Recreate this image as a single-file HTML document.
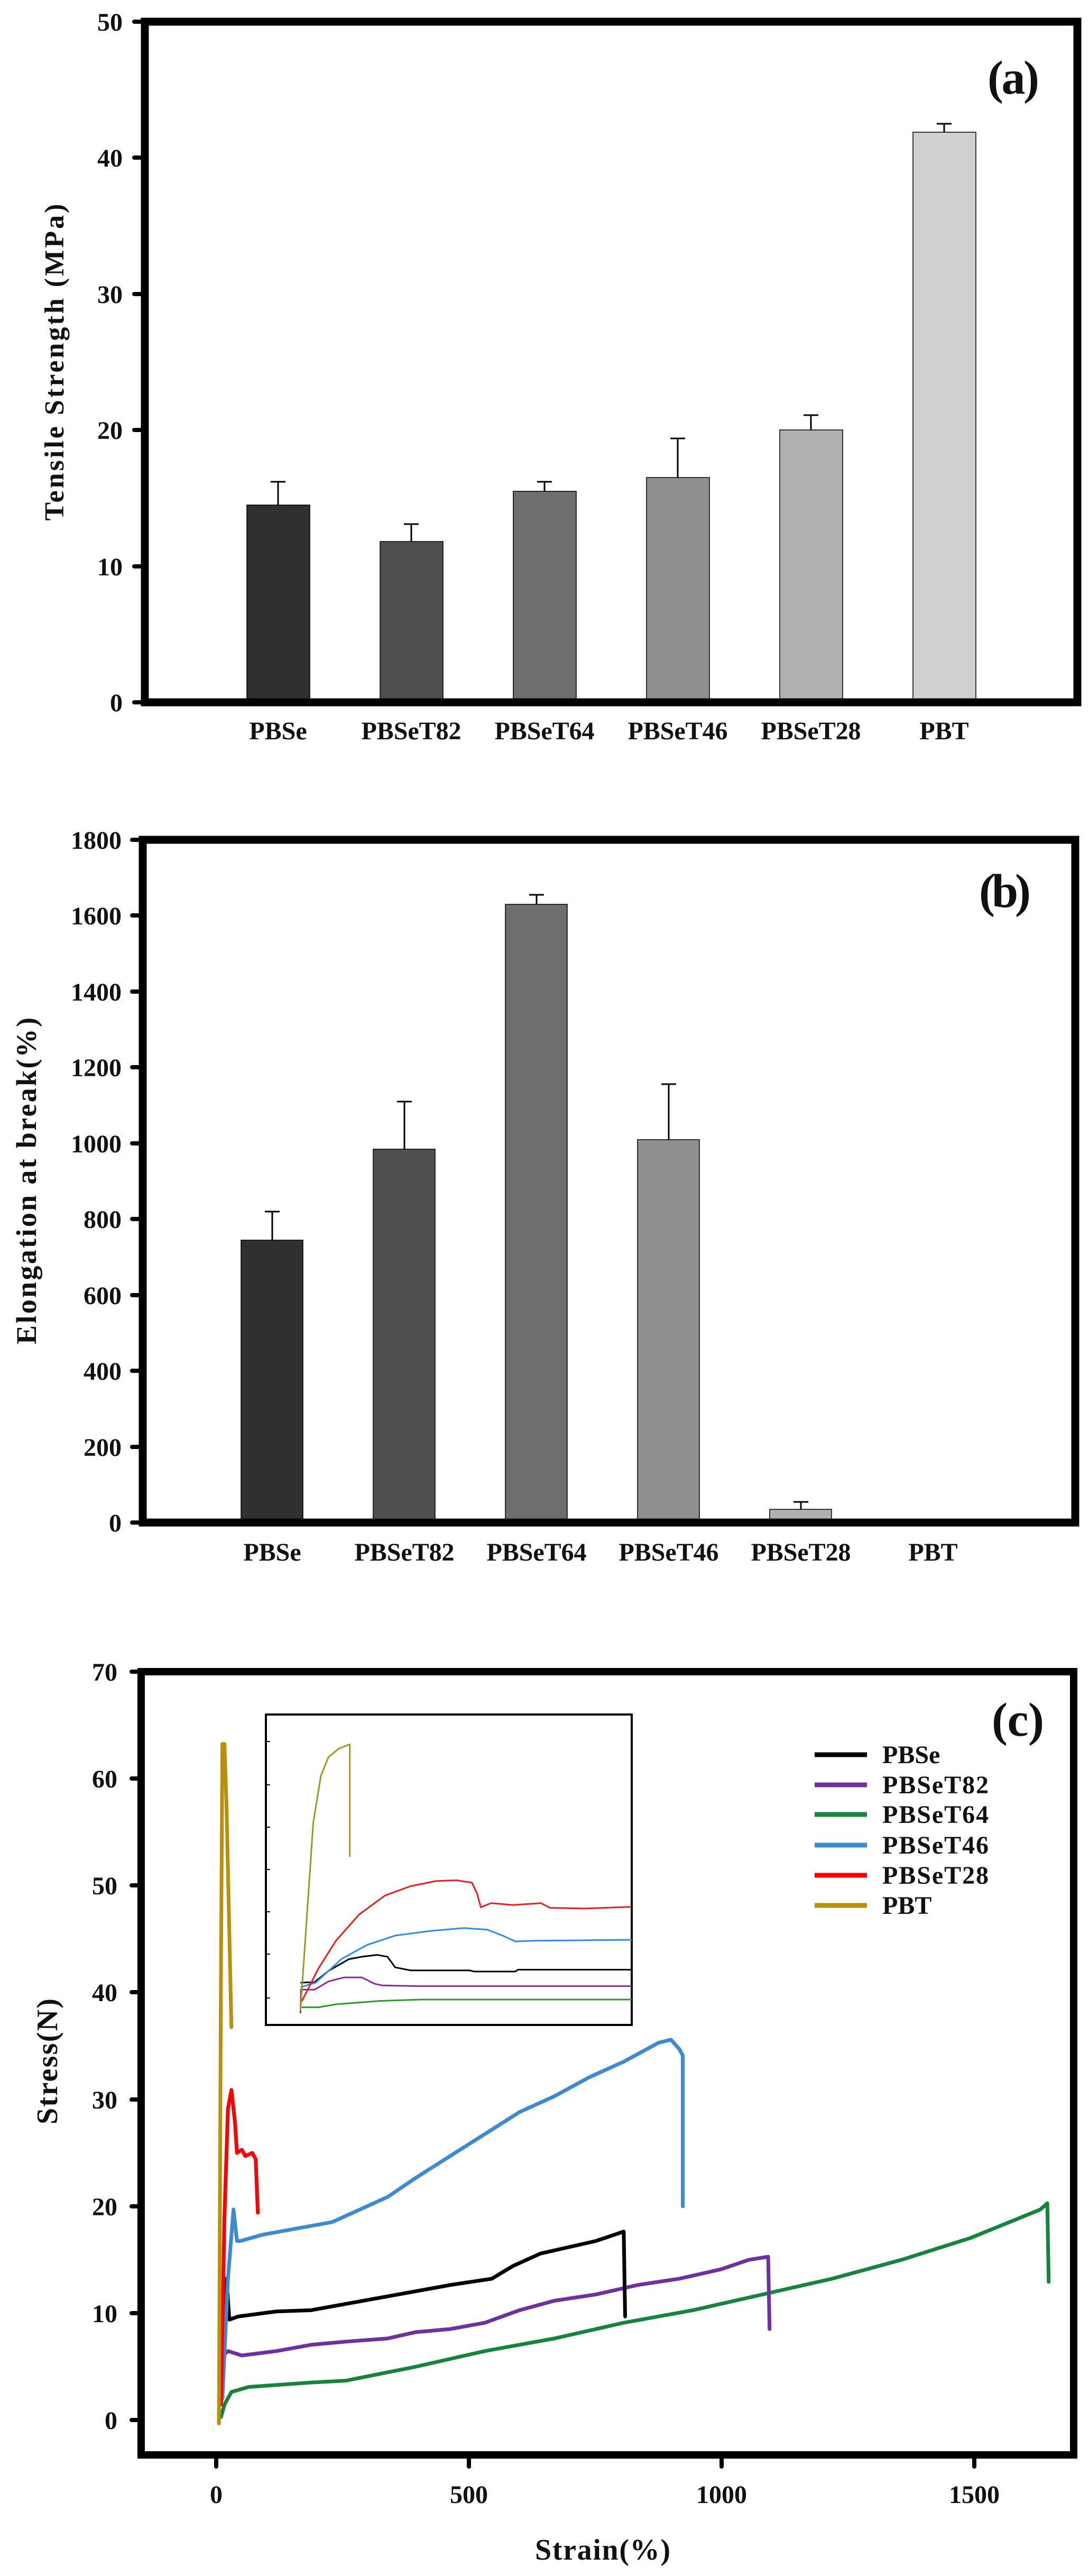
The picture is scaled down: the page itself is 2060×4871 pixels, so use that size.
<!DOCTYPE html>
<html><head><meta charset="utf-8"><style>
html,body{margin:0;padding:0;background:#fff}
svg{display:block}
text{font-family:"Liberation Serif",serif;font-weight:bold;fill:#111}
</style></head><body>
<svg width="2060" height="4871" viewBox="0 0 2060 4871" xmlns="http://www.w3.org/2000/svg">
<!-- Panel A -->
<g>
<g stroke="#000" stroke-width="1.5">
<rect x="467" y="955" width="119" height="373" fill="#303030"/>
<rect x="719" y="1024" width="119" height="304" fill="#505050"/>
<rect x="971" y="929" width="119" height="399" fill="#6e6e6e"/>
<rect x="1223" y="903" width="119" height="425" fill="#8f8f8f"/>
<rect x="1475" y="813" width="119" height="515" fill="#b0b0b0"/>
<rect x="1727" y="250" width="119" height="1078" fill="#d0d0d0"/>
</g>
<g stroke="#000" stroke-width="3" fill="none">
<path d="M526 955V911M512 911H540"/>
<path d="M778 1024V991M764 991H792"/>
<path d="M1030 929V911M1016 911H1044"/>
<path d="M1282 903V829M1268 829H1296"/>
<path d="M1534 813V785M1520 785H1548"/>
<path d="M1786 250V234M1772 234H1800"/>
</g>
<path d="M274 41H2038V1328H274Z" fill="none" stroke="#000" stroke-width="15"/>
<g stroke="#000" stroke-width="8" stroke-linecap="round">
<path d="M254 41H274M254 298H274M254 556H274M254 813H274M254 1071H274M254 1328H274"/>
</g>
<g font-size="48" text-anchor="end">
<text x="232" y="58">50</text><text x="232" y="315">40</text><text x="232" y="573">30</text>
<text x="232" y="830">20</text><text x="232" y="1088">10</text><text x="232" y="1345">0</text>
</g>
<g font-size="48" text-anchor="middle">
<text x="526" y="1398">PBSe</text><text x="778" y="1398" textLength="189">PBSeT82</text>
<text x="1030" y="1398" textLength="189">PBSeT64</text><text x="1282" y="1398" textLength="189">PBSeT46</text>
<text x="1534" y="1398" textLength="189">PBSeT28</text><text x="1786" y="1398">PBT</text>
</g>
<text x="1868" y="177" font-size="90" textLength="98">(a)</text>
<text transform="translate(120,685) rotate(-90)" font-size="52" text-anchor="middle" textLength="599">Tensile Strength (MPa)</text>
</g>

<!-- Panel B -->
<g>
<g stroke="#000" stroke-width="1.5">
<rect x="456" y="2345" width="117" height="534" fill="#303030"/>
<rect x="706" y="2173" width="117" height="706" fill="#505050"/>
<rect x="956" y="1710" width="117" height="1169" fill="#6e6e6e"/>
<rect x="1206" y="2155" width="117" height="724" fill="#8f8f8f"/>
<rect x="1456" y="2854" width="117" height="25" fill="#b0b0b0"/>
</g>
<g stroke="#000" stroke-width="3" fill="none">
<path d="M515 2345V2291M501 2291H529"/>
<path d="M765 2173V2083M751 2083H779"/>
<path d="M1015 1710V1692M1001 1692H1029"/>
<path d="M1265 2155V2050M1251 2050H1279"/>
<path d="M1515 2854V2840M1501 2840H1529"/>
</g>
<path d="M270 1588H2034V2879H270Z" fill="none" stroke="#000" stroke-width="15"/>
<g stroke="#000" stroke-width="8" stroke-linecap="round">
<path d="M250 1588H270M250 1731H270M250 1875H270M250 2018H270M250 2162H270M250 2305H270M250 2449H270M250 2592H270M250 2736H270M250 2879H270"/>
</g>
<g font-size="48" text-anchor="end">
<text x="230" y="1605">1800</text><text x="230" y="1748">1600</text><text x="230" y="1892">1400</text>
<text x="230" y="2035">1200</text><text x="230" y="2179">1000</text><text x="230" y="2322">800</text>
<text x="230" y="2466">600</text><text x="230" y="2609">400</text><text x="230" y="2753">200</text><text x="230" y="2896">0</text>
</g>
<g font-size="48" text-anchor="middle">
<text x="515" y="2951">PBSe</text><text x="765" y="2951" textLength="189">PBSeT82</text>
<text x="1015" y="2951" textLength="189">PBSeT64</text><text x="1265" y="2951" textLength="189">PBSeT46</text>
<text x="1515" y="2951" textLength="189">PBSeT28</text><text x="1765" y="2951">PBT</text>
</g>
<text x="1852" y="1715" font-size="90" textLength="98">(b)</text>
<text transform="translate(68,2233) rotate(-90)" font-size="54" text-anchor="middle" textLength="618">Elongation at break(%)</text>
</g>

<!-- Panel C -->
<g>
<g transform="translate(267,3161) scale(1.3135,1.1895) translate(-205,-135)" fill="none" stroke-linejoin="round" stroke-linecap="round">
<path vector-effect="non-scaling-stroke" stroke-width="7" stroke="#16843c" d="M320 1320L325 1300L335 1280L360 1272L450 1265L500 1262L600 1240L700 1215L800 1195L900 1170L1000 1150L1100 1125L1200 1100L1300 1070L1400 1035L1500 990L1510 980L1512 1105"/>
<path vector-effect="non-scaling-stroke" stroke-width="7" stroke="#7030a0" d="M320 1295L325 1220L330 1215L350 1222L400 1215L450 1205L500 1200L560 1195L600 1185L650 1180L700 1170L750 1150L800 1135L860 1125L920 1110L980 1100L1040 1085L1080 1070L1108 1065L1110 1180"/>
<path vector-effect="non-scaling-stroke" stroke-width="7" stroke="#000" d="M322 1290L328 1100L332 1165L345 1160L400 1152L450 1150L500 1140L550 1130L600 1120L650 1110L710 1100L740 1080L780 1060L820 1050L860 1040L900 1025L902 1160"/>
<path vector-effect="non-scaling-stroke" stroke-width="7" stroke="#3e8ad0" d="M322 1290L330 1100L338 990L343 1040L348 1040L380 1030L430 1020L480 1010L520 990L560 970L600 940L650 905L700 870L750 835L800 810L850 780L900 755L950 725L968 720L980 735L985 745L985 985"/>
<path vector-effect="non-scaling-stroke" stroke-width="7" stroke="#ff0000" d="M320 1300L325 1000L330 830L335 800L340 850L343 900L350 895L355 905L365 900L370 910L373 995"/>
<path vector-effect="non-scaling-stroke" stroke-width="7" stroke="#b8900a" d="M317 1330L320 600L322 250L325 250L328 350L332 550L335 700"/>
</g>
<!-- inset -->
<rect x="503" y="3242" width="692" height="587" fill="#fff" stroke="#000" stroke-width="4"/>
<g stroke="#000" stroke-width="2">
<path d="M505 3293H511M505 3375H511M505 3455H511M505 3535H511M505 3615H511M505 3695H511M505 3778H511"/>
</g>
<g transform="translate(503,3242) scale(0.484,0.4447) translate(-55,-140)" fill="none" stroke-linejoin="round">
<path vector-effect="non-scaling-stroke" stroke-width="3" stroke="#2a9a2a" d="M195 1385L260 1385L330 1372L500 1358L660 1352L1485 1352"/>
<path vector-effect="non-scaling-stroke" stroke-width="3" stroke="#8a2aa0" d="M190 1410L192 1310L245 1310L300 1275L360 1258L430 1258L480 1285L510 1292L650 1295L1485 1295"/>
<path vector-effect="non-scaling-stroke" stroke-width="3" stroke="#000" d="M190 1280L245 1278L300 1230L380 1180L430 1170L490 1162L530 1170L560 1215L620 1228L850 1228L870 1233L1030 1233L1040 1225L1485 1225"/>
<path vector-effect="non-scaling-stroke" stroke-width="3" stroke="#2a8cf0" d="M190 1300L250 1280L350 1180L450 1120L560 1080L700 1060L830 1048L920 1055L980 1080L1030 1105L1100 1102L1300 1100L1485 1098"/>
<path vector-effect="non-scaling-stroke" stroke-width="3" stroke="#ee1c1c" d="M195 1360L260 1220L330 1100L420 990L520 910L620 870L720 848L800 845L860 855L880 900L895 960L935 942L1020 950L1130 942L1165 962L1300 965L1480 958"/>
<path vector-effect="non-scaling-stroke" stroke-width="3" stroke="#9a9a22" d="M190 1400L240 600L270 400L300 320L340 285L380 268L383 268L383 745"/>
</g>
<path d="M267 3161H2031V4642H267Z" fill="none" stroke="#000" stroke-width="14"/>
<g stroke="#000" stroke-width="8" stroke-linecap="round">
<path d="M249 3161H267M249 3363H267M249 3565H267M249 3767H267M249 3970H267M249 4172H267M249 4374H267M249 4576H267"/>
<path d="M409 4642V4664M887 4642V4664M1365 4642V4664M1843 4642V4664"/>
</g>
<g font-size="48" text-anchor="end">
<text x="222" y="3178">70</text><text x="222" y="3380">60</text><text x="222" y="3582">50</text>
<text x="222" y="3784">40</text><text x="222" y="3987">30</text><text x="222" y="4189">20</text>
<text x="222" y="4391">10</text><text x="222" y="4593">0</text>
</g>
<g font-size="48" text-anchor="middle">
<text x="409" y="4733">0</text><text x="887" y="4733">500</text><text x="1365" y="4733">1000</text><text x="1843" y="4733">1500</text>
</g>
<text x="1140" y="4840" font-size="56" text-anchor="middle" textLength="256">Strain(%)</text>
<text transform="translate(108,3898) rotate(-90)" font-size="56" text-anchor="middle" textLength="238">Stress(N)</text>
<text x="1876" y="3282" font-size="90" textLength="99">(c)</text>
<g stroke-width="9">
<path d="M1541 3318H1640" stroke="#000"/>
<path d="M1541 3375H1640" stroke="#7030a0"/>
<path d="M1541 3431H1640" stroke="#16843c"/>
<path d="M1541 3489H1640" stroke="#3e8ad0"/>
<path d="M1541 3546H1640" stroke="#ff0000"/>
<path d="M1541 3603H1640" stroke="#b8900a"/>
</g>
<g font-size="48">
<text x="1669" y="3334">PBSe</text><text x="1669" y="3391" textLength="201">PBSeT82</text>
<text x="1669" y="3447" textLength="201">PBSeT64</text><text x="1669" y="3505" textLength="201">PBSeT46</text>
<text x="1669" y="3562" textLength="201">PBSeT28</text><text x="1669" y="3619">PBT</text>
</g>
</g>
</svg>
</body></html>
